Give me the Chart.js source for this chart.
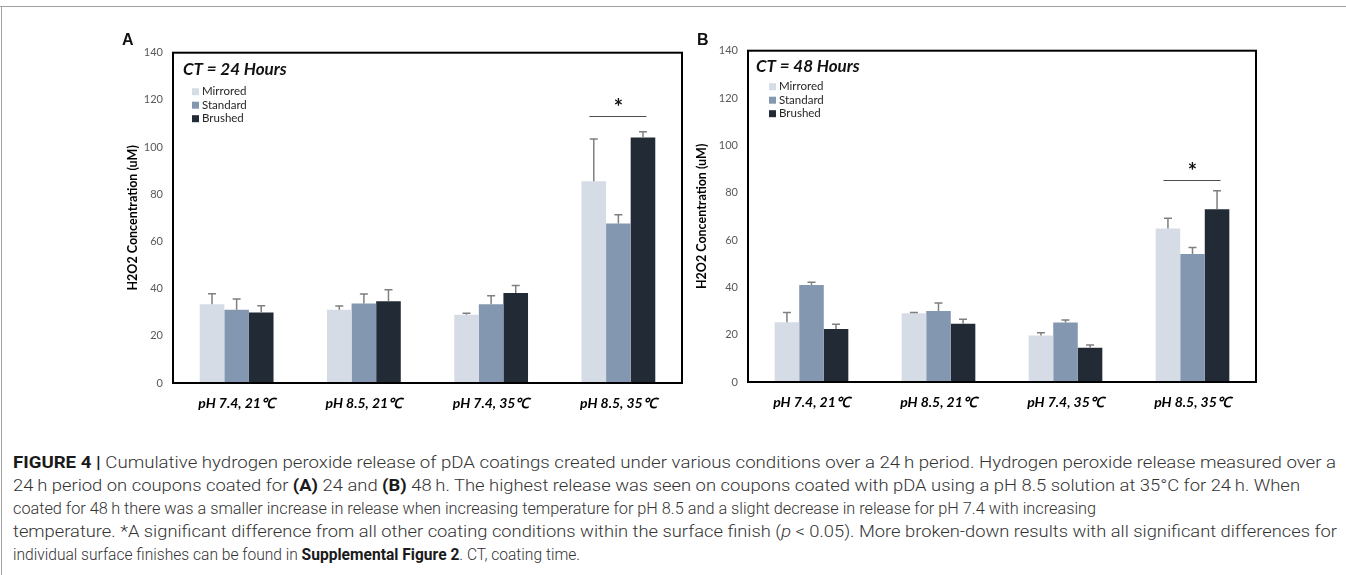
<!DOCTYPE html>
<html>
<head>
<meta charset="utf-8">
<script src="https://cdn.jsdelivr.net/npm/chart.js@4.4.0/dist/chart.umd.min.js"></script>
<style>
    body {
        margin: 0;
        width: 1346px;
        height: 575px;
        overflow: hidden;
        background: #fff;
        position: relative;
        font-family: Lato, sans-serif;
    }
    #ruleTop { position: absolute; left: 0; top: 6px; width: 1346px; height: 1px; background: #a0a0a0; }
    #ruleLeft { position: absolute; left: 1px; top: 6px; width: 1px; height: 569px; background: #a0a0a0; }
    canvas { position: absolute; top: 0; }
    #chartA { left: 0; }
    #chartB { left: 640px; }
    #caption {
        position: absolute;
        left: 13px;
        top: 451px;
        font-family: Roboto, "Liberation Sans", sans-serif;
        font-weight: 300;
        font-size: 16px;
        line-height: 23px;
        color: #333;
    }
    #caption div { white-space: nowrap; transform-origin: 0 50%; width: max-content; }
    #caption b { color: #1a1a1a; font-weight: 700; }
</style>
</head>
<body>
<div id="ruleTop"></div>
<div id="ruleLeft"></div>
<canvas id="chartA" width="700" height="430"></canvas>
<canvas id="chartB" width="706" height="430"></canvas>
<div id="caption">
    <div data-w="1323"><b>FIGURE 4 |</b> Cumulative hydrogen peroxide release of pDA coatings created under various conditions over a 24&#8201;h period. Hydrogen peroxide release measured over a</div>
    <div data-w="1287">24&#8201;h period on coupons coated for <b>(A)</b> 24 and <b>(B)</b> 48&#8201;h. The highest release was seen on coupons coated with pDA using a pH 8.5 solution at 35°C for 24&#8201;h. When</div>
    <div data-w="1083">coated for 48&#8201;h there was a smaller increase in release when increasing temperature for pH 8.5 and a slight decrease in release for pH 7.4 with increasing</div>
    <div data-w="1324">temperature. *A significant difference from all other coating conditions within the surface finish (<i>p</i> &lt; 0.05). More broken-down results with all significant differences for</div>
    <div data-w="567">individual surface finishes can be found in <b>Supplemental Figure 2</b>. CT, coating time.</div>
</div>
<script>
const categories = ['pH 7.4, 21℃', 'pH 8.5, 21℃', 'pH 7.4, 35℃', 'pH 8.5, 35℃'];
const seriesNames = ['Mirrored', 'Standard', 'Brushed'];
const seriesColors = ['#d6dce5', '#8497b0', '#222a35'];

// coating time 24 h
const mirrored24 = [33.4, 31.0, 28.9, 85.5];
const standard24 = [31.0, 33.7, 33.4, 67.6];
const brushed24 = [29.9, 34.6, 38.1, 104.1];
const mirrored24Err = [4.4, 1.6, 0.7, 17.9];
const standard24Err = [4.6, 4.0, 3.6, 3.7];
const brushed24Err = [2.8, 4.9, 3.2, 2.4];

// coating time 48 h
const mirrored48 = [25.2, 29.0, 19.6, 64.9];
const standard48 = [41.0, 30.0, 25.1, 54.1];
const brushed48 = [22.4, 24.6, 14.5, 73.0];
const mirrored48Err = [4.2, 0.4, 1.2, 4.3];
const standard48Err = [1.1, 3.4, 1.1, 2.7];
const brushed48Err = [2.0, 1.9, 1.1, 7.8];

const yMax = 140;
const yStep = 20;

// significance bar over the last group: [category index, line value, star value]
const sig24 = [3, 113, 118.5];
const sig48 = [3, 85.4, 90.6];

const decorPlugin = {
    id: 'decor',
    afterDatasetsDraw(chart, args, opts) {
        const ctx = chart.ctx;
        const area = chart.chartArea;
        const x = chart.scales.x;
        const y = chart.scales.y;

        ctx.save();

        // error bars (upper only)
        ctx.strokeStyle = '#7f7f7f';
        ctx.lineWidth = 1.5;
        chart.data.datasets.forEach((ds, i) => {
            chart.getDatasetMeta(i).data.forEach((bar, j) => {
                const top = y.getPixelForValue(ds.data[j] + ds.errors[j]);
                ctx.beginPath();
                ctx.moveTo(bar.x, bar.y);
                ctx.lineTo(bar.x, top);
                ctx.moveTo(bar.x - 4, top);
                ctx.lineTo(bar.x + 4, top);
                ctx.stroke();
            });
        });

        // significance line and star
        const cx = x.getPixelForValue(opts.sig[0]);
        const ly = Math.round(y.getPixelForValue(opts.sig[1])) + 0.5;
        ctx.strokeStyle = '#4d4d4d';
        ctx.lineWidth = 1;
        ctx.beginPath();
        ctx.moveTo(cx - 29, ly);
        ctx.lineTo(cx + 28, ly);
        ctx.stroke();
        ctx.fillStyle = '#111';
        ctx.font = 'bold 22px Lato';
        ctx.textAlign = 'center';
        ctx.textBaseline = 'middle';
        ctx.fillText('*', cx, y.getPixelForValue(opts.sig[2]) + 4);

        // frame
        ctx.strokeStyle = '#000';
        ctx.lineWidth = 2;
        ctx.strokeRect(area.left, area.top, area.right - area.left, area.bottom - area.top);

        // panel letter
        ctx.textAlign = 'left';
        ctx.textBaseline = 'alphabetic';
        ctx.font = 'bold 16px "Liberation Sans"';
        ctx.fillText(opts.letter, opts.letterX, 45);

        // CT title
        ctx.font = 'italic bold 17px Lato';
        ctx.textBaseline = 'middle';
        ctx.fillText(opts.title, area.left + opts.titleDx, area.top + opts.titleDy);

        // legend
        ctx.font = '11.5px Lato';
        chart.data.datasets.forEach((ds, i) => {
            const ry = area.top + opts.legendDy + i * 13.5;
            ctx.fillStyle = ds.backgroundColor;
            ctx.fillRect(area.left + opts.legendDx, ry - 3.5, 7, 7);
            ctx.fillStyle = '#262626';
            ctx.fillText(ds.label, area.left + opts.legendDx + 10, ry);
        });

        ctx.restore();
    }
};

function buildPanel(canvasId, values, errors, p) {
    const datasets = seriesNames.map((name, i) => ({
        label: name,
        data: values[i],
        errors: errors[i],
        backgroundColor: seriesColors[i],
        borderWidth: 0,
        barPercentage: 1.0,
        categoryPercentage: 0.58
    }));

    new Chart(document.getElementById(canvasId), {
        type: 'bar',
        data: { labels: categories, datasets: datasets },
        plugins: [decorPlugin],
        options: {
            responsive: false,
            animation: false,
            layout: { padding: { left: 0, top: p.top, right: p.right, bottom: 0 } },
            plugins: {
                legend: { display: false },
                tooltip: { enabled: false },
                decor: p.decor
            },
            scales: {
                x: {
                    grid: { display: false, drawTicks: false },
                    border: { display: false },
                    ticks: {
                        padding: 12,
                        color: '#000',
                        font: { family: 'Lato', size: 14, weight: 'bold', style: 'italic' },
                        maxRotation: 0
                    },
                    afterFit: scale => { scale.height = p.xHeight; }
                },
                y: {
                    min: 0,
                    max: yMax,
                    grid: { display: false, drawTicks: false },
                    border: { display: false },
                    ticks: {
                        stepSize: yStep,
                        padding: 10,
                        color: '#595959',
                        font: { family: 'Lato', size: 11 }
                    },
                    title: {
                        display: true,
                        text: 'H2O2 Concentration (uM)',
                        color: '#000',
                        font: { family: 'Lato', size: 12.5, weight: 'bold' },
                        padding: { top: p.titlePad, bottom: 0 }
                    },
                    afterFit: scale => { scale.width = p.yWidth; }
                }
            }
        }
    });
}

buildPanel('chartA',
    [mirrored24, standard24, brushed24],
    [mirrored24Err, standard24Err, brushed24Err],
    {
        top: 52.7, right: 18, xHeight: 47, yWidth: 173, titlePad: 125,
        decor: { letter: 'A', letterX: 122, title: 'CT = 24 Hours', titleDx: 10, titleDy: 17,
                 legendDx: 19, legendDy: 39, sig: sig24 }
    });

buildPanel('chartB',
    [mirrored48, standard48, brushed48],
    [mirrored48Err, standard48Err, brushed48Err],
    {
        top: 50.7, right: 90, xHeight: 48, yWidth: 108, titlePad: 54,
        decor: { letter: 'B', letterX: 57, title: 'CT = 48 Hours', titleDx: 8, titleDy: 16,
                 legendDx: 21, legendDy: 36, sig: sig48 }
    });

// stretch each caption line to the width it has in the figure
document.querySelectorAll('#caption div').forEach(line => {
    const target = Number(line.dataset.w);
    const w = line.getBoundingClientRect().width;
    line.style.transform = `scaleX(${target / w})`;
});
</script>
</body>
</html>
